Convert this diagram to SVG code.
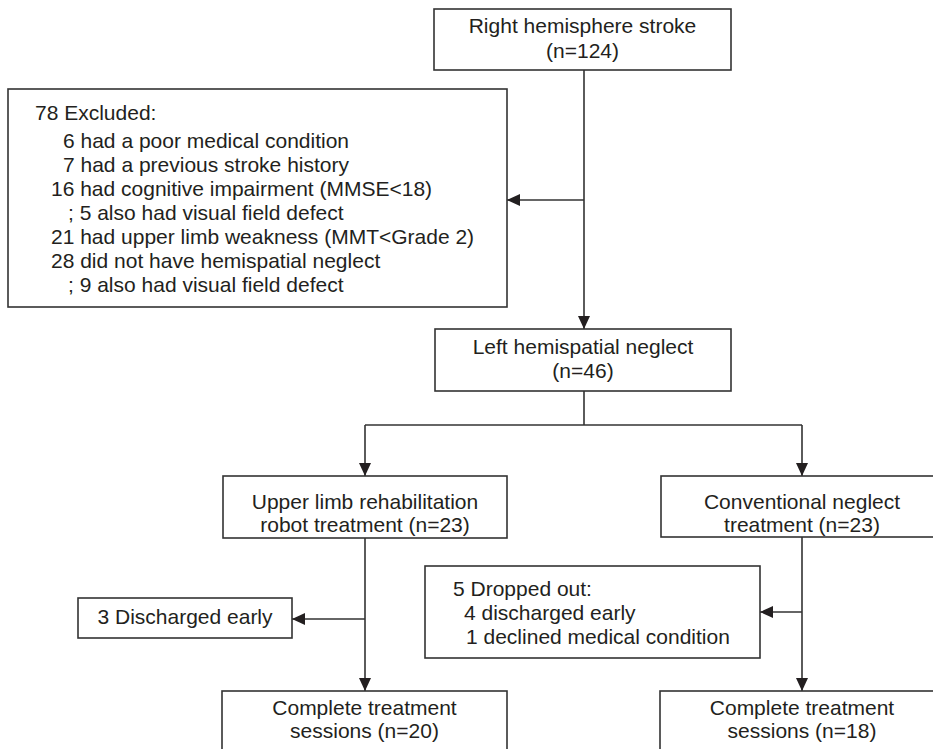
<svg xmlns="http://www.w3.org/2000/svg" width="933" height="749" viewBox="0 0 933 749">
<style>
  .box { fill: #ffffff; stroke: #333333; stroke-width: 1.6; }
  .t { font-family: "Liberation Sans", Arial, sans-serif; font-size: 21px; fill: #231f20; }
  .c { text-anchor: middle; }
  .ln { fill: none; stroke: #333333; stroke-width: 1.6; }
</style>
<defs>
  <marker id="ah" markerUnits="userSpaceOnUse" markerWidth="14" markerHeight="14" refX="13" refY="6" orient="auto">
    <path d="M0,0 L13,6 L0,12 Z" fill="#231f20"/>
  </marker>
</defs>
<rect width="933" height="749" fill="#ffffff"/>

<g id="connectors">
  <line class="ln" x1="584" y1="70" x2="584" y2="329" marker-end="url(#ah)"/>
  <line class="ln" x1="584" y1="200" x2="507" y2="200" marker-end="url(#ah)"/>
  <line class="ln" x1="584" y1="391" x2="584" y2="425"/>
  <line class="ln" x1="365" y1="425" x2="802" y2="425"/>
  <line class="ln" x1="365" y1="425" x2="365" y2="476" marker-end="url(#ah)"/>
  <line class="ln" x1="802" y1="425" x2="802" y2="476" marker-end="url(#ah)"/>
  <line class="ln" x1="365" y1="538" x2="365" y2="691" marker-end="url(#ah)"/>
  <line class="ln" x1="365" y1="619" x2="292" y2="619" marker-end="url(#ah)"/>
  <line class="ln" x1="802" y1="537" x2="802" y2="691" marker-end="url(#ah)"/>
  <line class="ln" x1="802" y1="612" x2="760" y2="612" marker-end="url(#ah)"/>
</g>

<g id="stroke">
  <rect class="box" x="434" y="9" width="297" height="61"/>
  <text class="t c" x="582.5" y="33">Right hemisphere stroke</text>
  <text class="t c" x="582.5" y="58">(n=124)</text>
</g>

<g id="excluded">
  <rect class="box" x="8" y="89" width="499" height="218"/>
  <text class="t" x="35" y="120">78 Excluded:</text>
  <text class="t" x="63" y="148">6 had a poor medical condition</text>
  <text class="t" x="63" y="172">7 had a previous stroke history</text>
  <text class="t" x="51" y="196">16 had cognitive impairment (MMSE&lt;18)</text>
  <text class="t" x="68" y="220">; 5 also had visual field defect</text>
  <text class="t" x="51" y="244">21 had upper limb weakness (MMT&lt;Grade 2)</text>
  <text class="t" x="51" y="268">28 did not have hemispatial neglect</text>
  <text class="t" x="68" y="292">; 9 also had visual field defect</text>
</g>

<g id="neglect">
  <rect class="box" x="435" y="329" width="296" height="62"/>
  <text class="t c" x="583" y="354">Left hemispatial neglect</text>
  <text class="t c" x="583" y="378">(n=46)</text>
</g>

<g id="robot">
  <rect class="box" x="223" y="476" width="284" height="62"/>
  <text class="t c" x="365" y="509">Upper limb rehabilitation</text>
  <text class="t c" x="365" y="532">robot treatment (n=23)</text>
</g>

<g id="conventional">
  <rect class="box" x="661" y="476" width="282" height="61"/>
  <text class="t c" x="802" y="509">Conventional neglect</text>
  <text class="t c" x="802" y="532">treatment (n=23)</text>
</g>

<g id="discharged">
  <rect class="box" x="78" y="598" width="214" height="40"/>
  <text class="t c" x="185" y="624">3 Discharged early</text>
</g>

<g id="dropped">
  <rect class="box" x="425" y="566" width="335" height="92"/>
  <text class="t" x="453" y="596">5 Dropped out:</text>
  <text class="t" x="464" y="620">4 discharged early</text>
  <text class="t" x="466" y="644">1 declined medical condition</text>
</g>

<g id="complete-robot">
  <rect class="box" x="222" y="691" width="285" height="70"/>
  <text class="t c" x="364.5" y="715">Complete treatment</text>
  <text class="t c" x="364.5" y="738">sessions (n=20)</text>
</g>

<g id="complete-conventional">
  <rect class="box" x="660" y="691" width="284" height="70"/>
  <text class="t c" x="802" y="715">Complete treatment</text>
  <text class="t c" x="802" y="738">sessions (n=18)</text>
</g>
</svg>
